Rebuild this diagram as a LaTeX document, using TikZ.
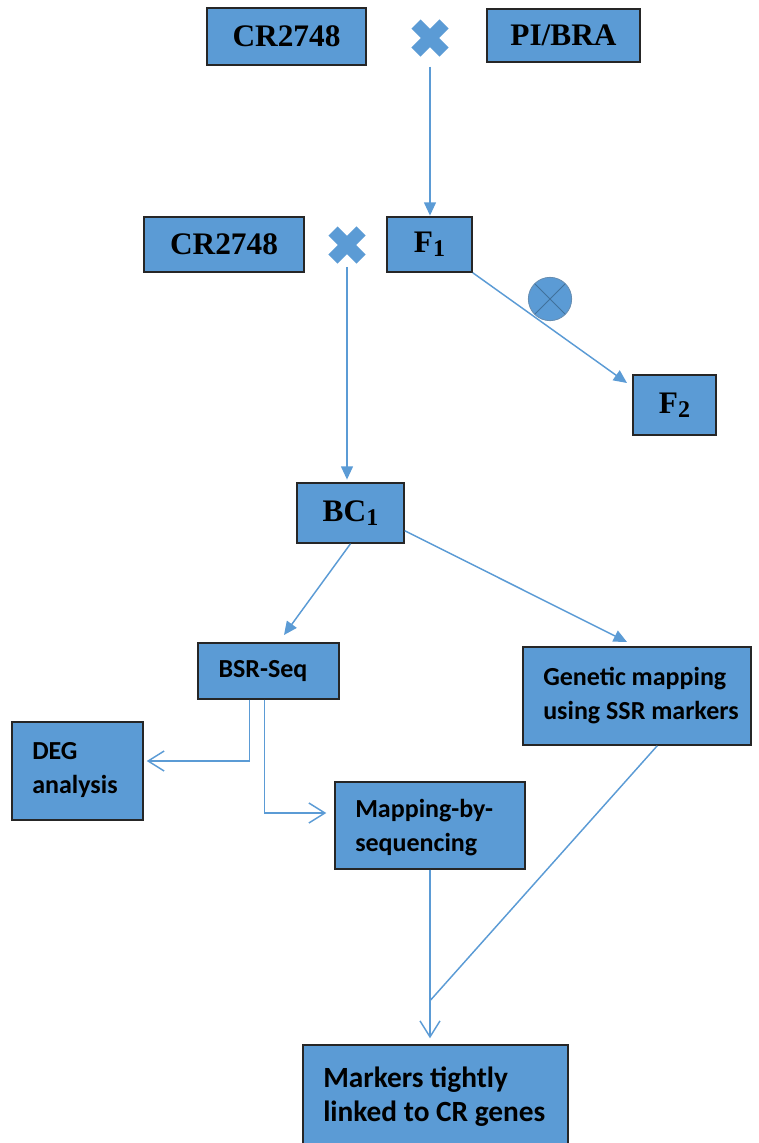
\documentclass[tikz,border=0pt]{standalone}
\usepackage{fontspec}
\setmainfont{Liberation Serif}
\newfontfamily\calfont{Carlito}
\usetikzlibrary{arrows.meta,fit,calc}
\definecolor{boxblue}{HTML}{5B9BD5}
\definecolor{lineblue}{HTML}{5B9BD5}
\definecolor{darkblue}{HTML}{41719C}
\newcommand\sbs[1]{\raisebox{-0.12em}{\fontsize{18}{18}\selectfont #1}}
\begin{document}
\begin{tikzpicture}[x=0.75pt,y=-0.75pt,
  box/.style={draw=black!85, line width=1.1pt, fill=boxblue, inner sep=0pt},
  tlabel/.style={font=\fontsize{23.5}{23.5}\selectfont\bfseries, text=black, inner sep=0pt},
  clabel/.style={font=\calfont\fontsize{19.5}{25.5}\selectfont\bfseries, text=black, align=left, inner sep=0pt},
  conn/.style={draw=lineblue, line width=1.1pt},
  solidarrow/.style={conn, -{Triangle[length=10pt,width=9pt]}},
  openarrow/.style={conn, -{Straight Barb[length=12pt,width=15pt]}},
  crossmark/.style={rectangle, minimum size=28.5pt, inner sep=0pt,
    path picture={
      \draw[boxblue, line width=9.75pt, shorten >=5.3pt, shorten <=5.3pt]
        (path picture bounding box.south west) -- (path picture bounding box.north east);
      \draw[boxblue, line width=9.75pt, shorten >=5.3pt, shorten <=5.3pt]
        (path picture bounding box.north west) -- (path picture bounding box.south east);}},
  selfmark/.style={circle, draw=darkblue!80, line width=0.6pt, fill=boxblue, minimum size=32.5pt, inner sep=0pt,
    path picture={
      \draw[darkblue, line width=0.7pt]
        (path picture bounding box.south west) -- (path picture bounding box.north east);
      \draw[darkblue, line width=0.7pt]
        (path picture bounding box.north west) -- (path picture bounding box.south east);}}
]
\useasboundingbox (0,0) rectangle (759,1143);

% boxes
\node[box, fit={(207,8) (366,65)}] (cr1) {};
\node[tlabel] (cr1t) at (cr1) {CR2748};
\node[crossmark] (cross1) at (430,38) {};
\node[box, fit={(487,9) (640,62)}] (pi) {};
\node[tlabel] (pit) at (pi) {PI/BRA};

\node[box, fit={(144,217) (304,272)}] (cr2) {};
\node[tlabel] (cr2t) at (cr2) {CR2748};
\node[crossmark] (cross2) at (347,245) {};
\node[box, fit={(387,217) (472,272)}] (f1) {};
\node[tlabel] (f1t) at (f1) {F\sbs{1}};

\node[selfmark] (self) at (550,299) {};
\node[box, fit={(633,375) (716,435)}] (f2) {};
\node[tlabel] (f2t) at (f2) {F\sbs{2}};

\node[box, fit={(297,483) (404,543)}] (bc1) {};
\node[tlabel] (bc1t) at (bc1) {BC\sbs{1}};

\node[box, fit={(198,643) (339,699)}] (bsr) {};
\node[clabel] (bsrt) at (263,671) {BSR-Seq};

\node[box, fit={(523,647) (751,745)}] (gen) {};
\node[clabel, anchor=west] (gent) at (543,696) {Genetic mapping\\using SSR markers};

\node[box, fit={(12,722) (143,820)}] (deg) {};
\node[clabel, anchor=west] (degt) at (32,770) {DEG\\analysis};

\node[box, fit={(335,782) (525,869)}] (map) {};
\node[clabel, anchor=west] (mapt) at (355,828) {Mapping-by-\\sequencing};

\node[box, fit={(303,1045) (568,1160)}] (mark) {};
\node[clabel, anchor=west, font=\calfont\fontsize{22}{25.5}\selectfont\bfseries] (markt) at (323,1097) {Markers tightly\\linked to CR genes};

% coordinates
\coordinate (f2tip) at (627,383);
\coordinate (bsrtip) at (284,635);
\coordinate (bc1r) at ($(bc1.south east)+(0,-13)$);
\coordinate (gentip) at (627,642);
\coordinate (bsrA) at ($(bsr.south west)+(52,0)$);
\coordinate (bsrB) at ($(bsr.south west)+(67,0)$);
\coordinate (junc) at ($(map.south)+(0,131)$);
\coordinate (genB) at ($(gen.south west)+(135,0)$);

% connectors
\draw[solidarrow, shorten <=7pt, shorten >=0.5pt] (cross1.south) -- (cross1.south |- f1.north);
\draw[solidarrow, shorten <=2pt, shorten >=2pt] (cross2.south) -- (cross2.south |- bc1.north);
\draw[solidarrow] (f1.south east) -- (f2tip);
\draw[solidarrow] (bc1.south) -- (bsrtip);
\draw[solidarrow] (bc1r) -- (gentip);
\draw[openarrow] (bsrA) |- ($(deg.east)+(3,-10)$);
\draw[openarrow] (bsrB) |- ($(map.west)+(-8,-12.5)$);
\draw[openarrow] (map.south) -- ($(mark.north -| map.south)+(0,-6)$);
\draw[conn] (genB) -- (junc);
\end{tikzpicture}
\end{document}
